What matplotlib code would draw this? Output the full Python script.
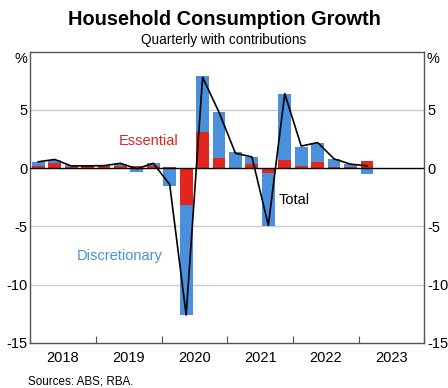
import matplotlib.pyplot as plt
import numpy as np

plt.rcParams['font.family'] = ['Liberation Sans', 'DejaVu Sans']

# quarterly contributions, 2018Q1 to 2023Q1 (ppt)
essential = [0.22, 0.45, 0.12, 0.25, 0.20, 0.20, 0.18, 0.20, 0.10, -3.20, 3.14,
             0.91, 0.05, 0.40, -0.40, 0.74, 0.22, 0.57, 0.14, 0.14, 0.66]
discretionary = [0.32, 0.29, 0.13, -0.10, 0.05, 0.13, -0.29, 0.25, -1.50, -9.40, 4.80,
                 3.94, 1.30, 0.57, -4.52, 5.66, 1.63, 1.60, 0.69, 0.19, -0.46]
total = [0.55, 0.75, 0.20, 0.20, 0.22, 0.42, -0.05, 0.42, -1.40, -12.60, 7.80,
         4.80, 1.28, 0.97, -4.90, 6.40, 1.90, 2.20, 0.80, 0.35, 0.20]
years = ['2018', '2019', '2020', '2021', '2022', '2023']

blue = '#4a90dc'
red = '#e0261f'

ess = np.array(essential)
disc = np.array(discretionary)
x = np.arange(len(ess)) + 0.5

fig = plt.figure(figsize=(4.48, 3.88), dpi=100)
ax = fig.add_axes([0.067, 0.116, 0.8805, 0.7508])

# stack positives and negatives separately, essential closest to zero
ess_bottom = np.zeros_like(ess)
disc_bottom = np.where(np.sign(disc) == np.sign(ess), ess, 0.0)
ax.bar(x, ess, width=0.78, bottom=ess_bottom, color=red, zorder=2)
ax.bar(x, disc, width=0.78, bottom=disc_bottom, color=blue, zorder=2)
ax.plot(x, total, color='black', lw=1.2, zorder=4)
ax.axhline(0, color='black', lw=1.0, zorder=3)

for yv in [5, -5, -10]:
    ax.axhline(yv, color='#cccccc', lw=1.0, zorder=1)

ax.set_xlim(0, 24)
ax.set_ylim(-15, 10)

ax.set_xticks(np.arange(0, 25, 4))
ax.set_xticklabels([])
ax.set_xticks(np.arange(2, 24, 4), minor=True)
ax.set_xticklabels(years, minor=True, fontsize=10.5)
ax.tick_params(axis='x', which='major', direction='in', length=5, color='#555555')
ax.tick_params(axis='x', which='minor', length=0, pad=6)

ax.set_yticks([-15, -10, -5, 0, 5])
ax.set_yticklabels(['-15', '-10', '-5', '0', '5'])
ax.tick_params(axis='y', length=0, labelsize=10.5, pad=2,
               left=True, right=True, labelleft=True, labelright=True)
ax.text(-0.15, 10, '%', ha='right', va='top', fontsize=10.5)
ax.text(24.15, 10, '%', ha='left', va='top', fontsize=10.5)

for s in ax.spines.values():
    s.set_color('#555555')
    s.set_linewidth(1.0)

ax.text(7.2, 2.3, 'Essential', color=red, fontsize=10.5, ha='center', va='center')
ax.text(5.45, -7.5, 'Discretionary', color=blue, fontsize=10.5, ha='center', va='center')
ax.text(16.06, -2.7, 'Total', color='black', fontsize=10.5, ha='center', va='center')

fig.text(0.5, 0.951, 'Household Consumption Growth', ha='center', va='center',
         fontsize=14.4, fontweight='bold')
fig.text(0.5, 0.897, 'Quarterly with contributions', ha='center', va='center', fontsize=9.8)
fig.text(0.063, 0.018, 'Sources: ABS; RBA.', ha='left', va='center', fontsize=8.4)

fig.savefig('out.png', dpi=100)
